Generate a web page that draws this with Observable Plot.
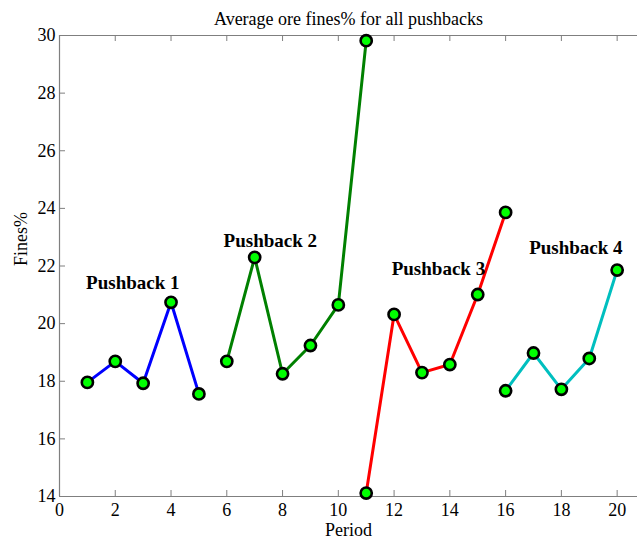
<!DOCTYPE html>
<html>
<head>
<meta charset="utf-8">
<script src="https://cdn.jsdelivr.net/npm/d3@7"></script>
<script src="https://cdn.jsdelivr.net/npm/@observablehq/plot@0.6"></script>
<style>
  html, body { margin: 0; padding: 0; background: #fff; }
  #chart svg { display: block; }
</style>
</head>
<body>
<div id="chart"></div>
<script>
// ---- data ----
const titleText = "Average ore fines% for all pushbacks";
const xLabel = "Period";
const yLabel = "Fines%";
const seriesNames = ["Pushback 1", "Pushback 2", "Pushback 3", "Pushback 4"];
const seriesColors = ["#0000ff", "#008000", "#ff0000", "#00bfbf"];
const periods1 = [1, 2, 3, 4, 5];
const values1 = [17.96, 18.69, 17.93, 20.74, 17.56];
const periods2 = [6, 7, 8, 9, 10, 11];
const values2 = [18.69, 22.30, 18.26, 19.24, 20.65, 29.82];
const periods3 = [11, 12, 13, 14, 15, 16];
const values3 = [14.12, 20.32, 18.30, 18.58, 21.01, 23.86];
const periods4 = [16, 17, 18, 19, 20];
const values4 = [17.67, 18.98, 17.72, 18.79, 21.86];
const labelX = [2.63, 7.56, 13.59, 18.52];
const labelY = [21.42, 22.88, 21.90, 22.62];
const xTicks = [0, 2, 4, 6, 8, 10, 12, 14, 16, 18, 20];
const yTicks = [14, 16, 18, 20, 22, 24, 26, 28, 30];

// ---- build table ----
const allP = [periods1, periods2, periods3, periods4];
const allV = [values1, values2, values3, values4];
const points = [];
allP.forEach((ps, i) => ps.forEach((p, j) => points.push({series: seriesNames[i], period: p, value: allV[i][j]})));
const labels = seriesNames.map((s, i) => ({series: s, x: labelX[i], y: labelY[i]}));

const W = 637, H = 544, mL = 59, mT = 35, mB = 48, mR = 0;
const innerW = W - mL - mR, innerH = H - mT - mB;
const axisGray = "#7f7f7f";
const tickLen = 6;

const chart = Plot.plot({
  width: W, height: H,
  marginLeft: mL, marginRight: mR, marginTop: mT, marginBottom: mB,
  style: {fontFamily: "'Liberation Serif', 'Times New Roman', serif", fontSize: "18px", color: "#000", background: "#fff"},
  x: {domain: [0, 20.73], ticks: xTicks},
  y: {domain: [14, 30], ticks: yTicks},
  color: {domain: seriesNames, range: seriesColors},
  marks: [
    // frame lines
    Plot.ruleY([14, 30], {stroke: axisGray, strokeWidth: 1.2}),
    Plot.ruleX([0], {stroke: axisGray, strokeWidth: 1.2}),
    // inward ticks
    Plot.ruleX(xTicks.slice(1), {stroke: axisGray, strokeWidth: 1, insetTop: innerH - tickLen}),
    Plot.ruleX(xTicks.slice(1), {stroke: axisGray, strokeWidth: 1, insetBottom: innerH - tickLen}),
    Plot.ruleY(yTicks.slice(1, -1), {stroke: axisGray, strokeWidth: 1, insetRight: innerW - tickLen}),
    Plot.axisX({ticks: xTicks, tickSize: 0, tickPadding: 7, label: null, fontSize: 18, fill: "#000"}),
    Plot.axisY({ticks: yTicks, tickSize: 0, tickPadding: 4, label: null, fontSize: 18, fill: "#000"}),
    // lines
    Plot.line(points, {x: "period", y: "value", z: "series", stroke: "series", strokeWidth: 3}),
    Plot.dot(points, {x: "period", y: "value", r: 5.6, fill: "#00ff00", stroke: "#000", strokeWidth: 2.6}),
    // labels
    Plot.text(labels, {x: "x", y: "y", text: "series", fontWeight: "bold", fontSize: 19, fill: "#000"}),
    // title & axis labels
    Plot.text([titleText], {frameAnchor: "top", dy: -23, fontSize: 18, fill: "#000"}),
    Plot.text([xLabel], {frameAnchor: "bottom", dy: 39, fontSize: 18, fill: "#000"}),
    Plot.text([yLabel], {frameAnchor: "left", dx: -38, rotate: -90, fontSize: 18, fill: "#000"})
  ]
});
document.getElementById("chart").appendChild(chart);
</script>
</body>
</html>
